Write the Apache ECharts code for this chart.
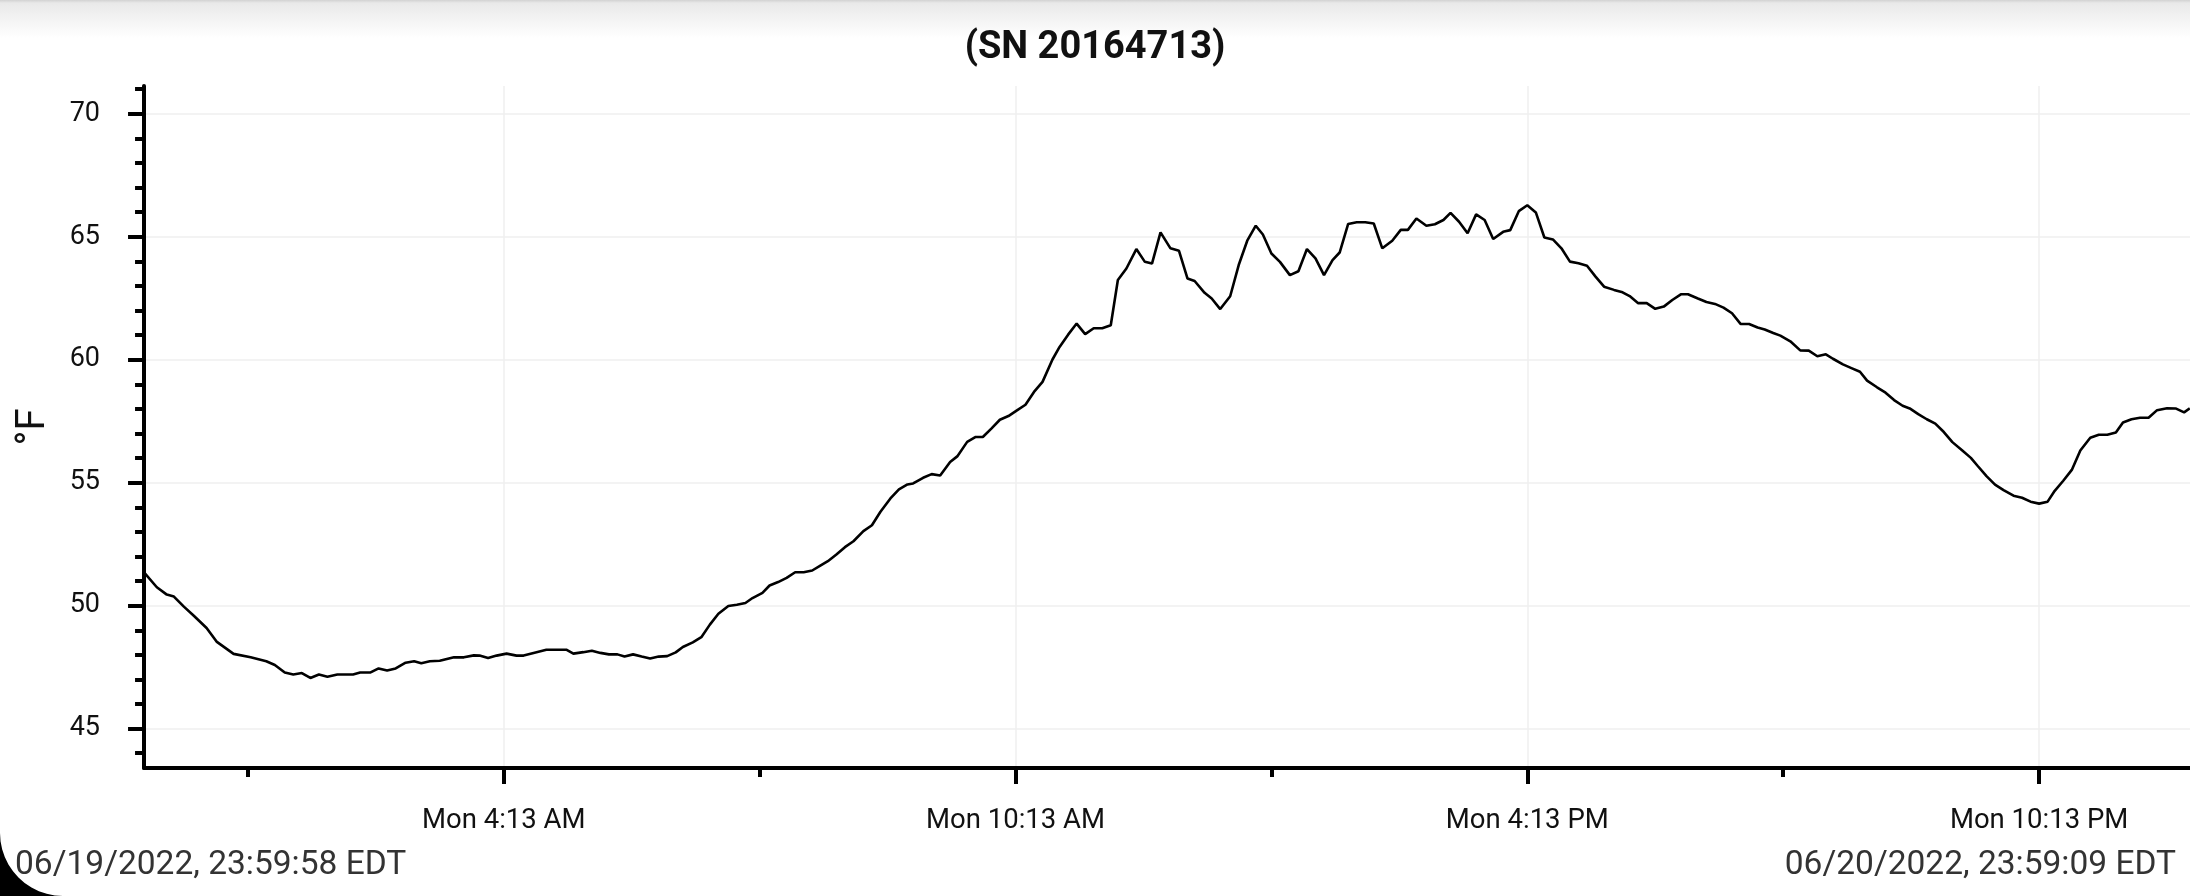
<!DOCTYPE html>
<html>
<head>
<meta charset="utf-8">
<title>SN 20164713</title>
<script src="https://cdn.jsdelivr.net/npm/echarts@6/dist/echarts.min.js"></script>
<style>
  html, body { margin: 0; padding: 0; background: #fff; }
  #chart-container { width: 2190px; height: 896px; }
</style>
</head>
<body>
<div id="chart-container"></div>
<script>
// minutes after 06/20/2022 00:00 EDT
const minutes = [
  0, 9, 16, 21, 28, 35, 44, 51, 63, 75, 86, 92, 99, 105, 111, 117, 123, 129, 136, 147,
  152, 159, 165, 171, 177, 184, 190, 195, 201, 208, 218, 225, 232, 236, 242, 248, 255, 262, 267, 274,
  283, 297, 302, 309, 315, 321, 327, 333, 338, 344, 350, 356, 362, 368, 374, 379, 386, 392, 398, 404,
  411, 417, 423, 428, 435, 440, 446, 452, 458, 464, 470, 476, 481, 487, 493, 499, 506, 512, 518, 525,
  531, 537, 541, 548, 554, 560, 567, 572, 579, 585, 590, 596, 602, 608, 614, 620, 626, 632, 639, 644,
  650, 656, 662, 668, 674, 680, 685, 691, 698, 704, 709, 715, 722, 728, 734, 739, 746, 751, 757, 764,
  770, 776, 782, 787, 793, 799, 806, 812, 818, 824, 830, 836, 841, 847, 853, 859, 865, 871, 878, 884,
  889, 895, 902, 908, 914, 919, 925, 931, 937, 943, 949, 956, 961, 967, 973, 979, 985, 991, 997, 1003,
  1009, 1015, 1021, 1027, 1034, 1040, 1045, 1051, 1057, 1063, 1069, 1075, 1081, 1086, 1093, 1099, 1105, 1111, 1117, 1123,
  1129, 1135, 1140, 1146, 1151, 1158, 1165, 1171, 1177, 1183, 1188, 1195, 1201, 1207, 1212, 1219, 1225, 1231, 1237, 1242,
  1248, 1254, 1260, 1266, 1272, 1279, 1285, 1290, 1296, 1302, 1308, 1315, 1321, 1327, 1333, 1339, 1344, 1350, 1356, 1362,
  1369, 1375, 1381, 1387, 1392, 1398, 1404, 1410, 1416, 1423, 1429, 1435, 1439
];
const tempsF = [
  51.35, 50.75, 50.45, 50.37, 49.96, 49.59, 49.09, 48.54, 48.04, 47.90, 47.74, 47.59, 47.28, 47.20, 47.26, 47.06, 47.20, 47.11, 47.20, 47.20,
  47.28, 47.28, 47.45, 47.36, 47.45, 47.68, 47.74, 47.66, 47.74, 47.76, 47.90, 47.90, 47.98, 47.97, 47.87, 47.97, 48.05, 47.97, 47.97, 48.08,
  48.21, 48.21, 48.05, 48.11, 48.17, 48.08, 48.02, 48.02, 47.93, 48.02, 47.93, 47.85, 47.93, 47.95, 48.10, 48.32, 48.51, 48.72, 49.23, 49.67,
  49.99, 50.04, 50.11, 50.31, 50.52, 50.82, 50.96, 51.13, 51.36, 51.36, 51.43, 51.64, 51.81, 52.08, 52.38, 52.62, 53.03, 53.27, 53.82, 54.36,
  54.73, 54.93, 54.97, 55.20, 55.35, 55.29, 55.84, 56.07, 56.66, 56.86, 56.86, 57.20, 57.56, 57.71, 57.94, 58.17, 58.69, 59.10, 60.01, 60.52,
  61.02, 61.47, 61.04, 61.28, 61.28, 61.40, 63.24, 63.71, 64.50, 63.98, 63.91, 65.18, 64.53, 64.43, 63.30, 63.20, 62.72, 62.49, 62.06, 62.58,
  63.85, 64.84, 65.45, 65.09, 64.32, 63.98, 63.44, 63.60, 64.50, 64.12, 63.44, 64.05, 64.36, 65.52, 65.59, 65.59, 65.54, 64.53, 64.84, 65.28,
  65.28, 65.74, 65.45, 65.51, 65.68, 65.97, 65.61, 65.14, 65.91, 65.68, 64.91, 65.20, 65.27, 66.04, 66.28, 65.99, 64.97, 64.89, 64.53, 63.99,
  63.92, 63.82, 63.38, 62.97, 62.84, 62.74, 62.59, 62.30, 62.30, 62.07, 62.16, 62.43, 62.66, 62.66, 62.49, 62.35, 62.27, 62.12, 61.89, 61.46,
  61.45, 61.31, 61.23, 61.09, 60.98, 60.75, 60.38, 60.37, 60.14, 60.22, 60.04, 59.81, 59.66, 59.51, 59.15, 58.88, 58.66, 58.36, 58.13, 58.02,
  57.79, 57.58, 57.40, 57.06, 56.65, 56.31, 56.01, 55.67, 55.27, 54.92, 54.70, 54.47, 54.39, 54.23, 54.15, 54.23, 54.67, 55.08, 55.52, 56.31,
  56.83, 56.95, 56.95, 57.04, 57.45, 57.58, 57.64, 57.64, 57.95, 58.03, 58.02, 57.86, 58.02
];

const xTickMinutes = [253, 613, 973, 1333];
const xTickLabels = ["Mon 4:13 AM", "Mon 10:13 AM", "Mon 4:13 PM", "Mon 10:13 PM"];
const xMinorMinutes = [73, 433, 793, 1153];
const yTicks = [45, 50, 55, 60, 65, 70];
const yMinorTicks = [44, 46, 47, 48, 49, 51, 52, 53, 54, 56, 57, 58, 59, 61, 62, 63, 64, 66, 67, 68, 69, 71];

const startLabel = "06/19/2022, 23:59:58 EDT";
const endLabel = "06/20/2022, 23:59:09 EDT";

var dom = document.getElementById("chart-container");
var myChart = echarts.init(dom, null, { renderer: "canvas" });

const xMin = -0.03, xMax = 1439.15;
const yMin = 43.4, yMax = 71.13;
const font = "Roboto";

// black rounded screen corner, bottom left
const cornerR = 63;
const cornerPts = [[0, 896]];
for (let k = 0; k <= 12; k++) {
  const t = Math.PI - (k / 12) * (Math.PI / 2);
  cornerPts.push([cornerR + cornerR * Math.cos(t), 896 - cornerR + cornerR * Math.sin(t)]);
}

var option = {
  animation: false,
  backgroundColor: "#fff",
  title: {
    text: "(SN 20164713)",
    left: "center",
    top: 24,
    textStyle: { fontFamily: font, fontSize: 38, fontWeight: "bold", color: "#111" }
  },
  grid: { left: 144, right: 0, top: 86, bottom: 128, outerBoundsMode: "none" },
  xAxis: [
    {
      type: "value",
      min: xMin,
      max: xMax,
      axisLine: { onZero: false, lineStyle: { color: "#000", width: 4 } },
      axisTick: { customValues: xTickMinutes, length: 16, lineStyle: { color: "#000", width: 4 } },
      axisLabel: {
        customValues: xTickMinutes,
        formatter: (v) => xTickLabels[xTickMinutes.indexOf(v)],
        margin: 39,
        fontFamily: font,
        fontSize: 27.5,
        color: "#111"
      },
      splitLine: { show: true, lineStyle: { color: "#efefef", width: 1.5 } }
    },
    {
      type: "value",
      position: "bottom",
      offset: 0,
      min: xMin,
      max: xMax,
      axisLine: { show: false, onZero: false },
      axisTick: { customValues: xMinorMinutes, length: 9, lineStyle: { color: "#000", width: 4 } },
      axisLabel: { show: false },
      splitLine: { show: false }
    }
  ],
  yAxis: [
    {
      type: "value",
      min: yMin,
      max: yMax,
      name: "°F",
      nameLocation: "middle",
      nameGap: 90,
      nameTextStyle: { fontFamily: font, fontSize: 40, color: "#111" },
      axisLine: { show: true, lineStyle: { color: "#000", width: 4 } },
      axisTick: { show: true, customValues: yTicks, length: 16, lineStyle: { color: "#000", width: 4 } },
      axisLabel: { customValues: yTicks, margin: 44, fontFamily: font, fontSize: 27, color: "#111" },
      splitLine: { show: true, lineStyle: { color: "#efefef", width: 1.5 } }
    },
    {
      type: "value",
      position: "left",
      offset: 0,
      min: yMin,
      max: yMax,
      axisLine: { show: false },
      axisTick: { show: true, customValues: yMinorTicks, length: 9, lineStyle: { color: "#000", width: 4 } },
      axisLabel: { show: false },
      splitLine: { show: false }
    }
  ],
  series: [
    {
      type: "line",
      xAxisIndex: 0,
      yAxisIndex: 0,
      data: minutes.map((m, i) => [m, tempsF[i]]),
      showSymbol: false,
      lineStyle: { color: "#000", width: 2.6 },
      z: 5
    }
  ],
  graphic: [
    {
      type: "rect",
      left: 0,
      top: 0,
      shape: { width: 2190, height: 38 },
      style: {
        fill: {
          type: "linear", x: 0, y: 0, x2: 0, y2: 1,
          colorStops: [
            { offset: 0, color: "#d2d2d2" },
            { offset: 0.08, color: "#e9e9e9" },
            { offset: 1, color: "#ffffff" }
          ]
        }
      },
      z: -10
    },
    {
      type: "polygon",
      shape: { points: cornerPts },
      style: { fill: "#000" }
    },
    {
      type: "text",
      x: 15,
      y: 866,
      style: { text: startLabel, fontFamily: font, fontSize: 33.5, fill: "#333", align: "left", verticalAlign: "middle" }
    },
    {
      type: "text",
      x: 2176,
      y: 866,
      style: { text: endLabel, fontFamily: font, fontSize: 33.5, fill: "#333", align: "right", verticalAlign: "middle" }
    }
  ]
};

if (option && typeof option === "object") {
  myChart.setOption(option);
}

window.addEventListener("resize", myChart.resize);
</script>
</body>
</html>
